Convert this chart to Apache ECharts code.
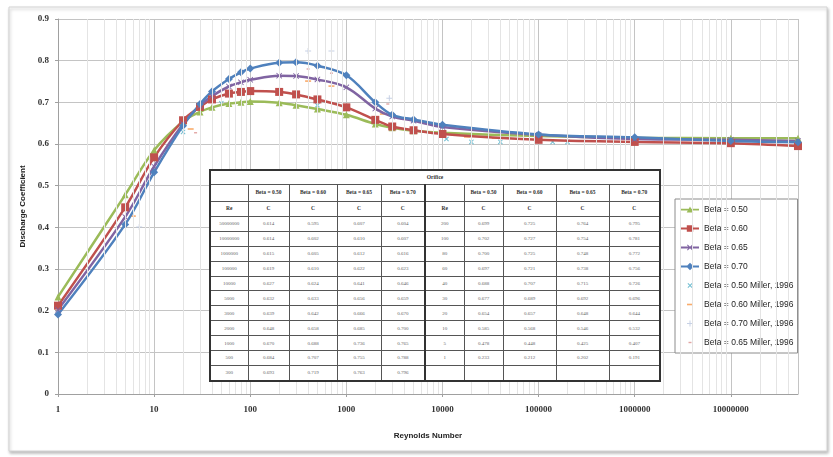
<!DOCTYPE html>
<html>
<head>
<meta charset="utf-8">
<script src="https://cdn.jsdelivr.net/npm/echarts@6/dist/echarts.min.js"></script>
<style>
html, body { margin: 0; padding: 0; background: #fff; }
#wrap { position: relative; width: 833px; height: 457px; }
#chart { position: absolute; left: 0; top: 0; width: 833px; height: 457px; }
#orifice { position: absolute; left: 209px; top: 169px; width: 452px; border-collapse: collapse; table-layout: fixed;
    background: #fff; border: 2px solid #333; font-family: "Liberation Serif", serif; }
#orifice td { border: 1px solid #555; padding: 0; text-align: center; font-size: 5px; color: #666; line-height: 1; overflow: hidden; }
#orifice td.h { font-weight: bold; color: #333; font-size: 5.5px; }
#orifice td.mid { border-left: 2px solid #333; }
#orifice tr.t td { height: 13px; text-align: center; }
#orifice tr.b td { height: 16px; }
#orifice tr.c td { height: 14px; }
#orifice tr.d td { height: 13.9px; }
</style>
</head>
<body>
<div id="wrap">
    <div id="chart"></div>
    <table id="orifice"></table>
</div>
<script>
// Reynolds numbers (same for every beta)
var reynolds = [1, 5, 10, 20, 30, 40, 60, 80, 100, 200, 300, 500, 1000, 2000, 3000, 5000, 10000, 100000, 1000000, 10000000, 50000000];
// discharge coefficient C
var beta50 = [0.233, 0.478, 0.585, 0.654, 0.677, 0.688, 0.697, 0.700, 0.702, 0.699, 0.693, 0.684, 0.670, 0.648, 0.639, 0.632, 0.627, 0.619, 0.615, 0.614, 0.614];
var beta60 = [0.212, 0.448, 0.568, 0.657, 0.689, 0.707, 0.721, 0.725, 0.727, 0.725, 0.719, 0.707, 0.688, 0.658, 0.642, 0.633, 0.624, 0.610, 0.605, 0.602, 0.595];
var beta65 = [0.202, 0.425, 0.546, 0.648, 0.692, 0.715, 0.738, 0.748, 0.754, 0.764, 0.763, 0.755, 0.736, 0.685, 0.666, 0.656, 0.641, 0.622, 0.612, 0.610, 0.607];
var beta70 = [0.191, 0.407, 0.532, 0.644, 0.696, 0.726, 0.756, 0.772, 0.781, 0.795, 0.796, 0.788, 0.765, 0.700, 0.670, 0.659, 0.646, 0.623, 0.616, 0.607, 0.604];
var betaLabels = ['Beta = 0.50', 'Beta = 0.60', 'Beta = 0.65', 'Beta = 0.70'];

// Miller, 1996 points [Re, C]
var miller50 = [[20, 0.629], [50, 0.698], [500, 0.693], [11000, 0.612], [20000, 0.605], [40000, 0.605], [140000, 0.605], [200000, 0.605]];
var miller60 = [[6, 0.427], [24, 0.636], [60, 0.722], [400, 0.751], [700, 0.739], [2400, 0.672], [10000, 0.629], [18000, 0.617], [35000, 0.614]];
var miller70 = [[7, 0.401], [400, 0.823], [700, 0.823], [2800, 0.710]];
var miller65 = [[27, 0.627], [400, 0.780], [700, 0.770], [2700, 0.696]];

function pairs(xs, ys) {
    return xs.map(function (x, i) { return [x, ys[i]]; });
}

// table under the curves
(function () {
    var cols = [38, 41, 48, 44, 44, 39, 39, 53, 53, 51];
    var html = '<colgroup>' + cols.map(function (w) { return '<col style="width:' + w + 'px">'; }).join('') + '</colgroup>';
    html += '<tr class="t"><td class="h" colspan="10">Orifice</td></tr>';
    var head = '<td class="h"></td>' + betaLabels.map(function (b) { return '<td class="h">' + b + '</td>'; }).join('');
    html += '<tr class="b">' + head + head.replace('<td class="h">', '<td class="h mid">') + '</tr>';
    var head2 = '<td class="h">Re</td><td class="h">C</td><td class="h">C</td><td class="h">C</td><td class="h">C</td>';
    html += '<tr class="c">' + head2 + head2.replace('<td class="h">', '<td class="h mid">') + '</tr>';
    var all = [beta50, beta60, beta65, beta70];
    function cells(i, mid) {
        if (i < 0) return '<td class="' + mid + '"></td><td></td><td></td><td></td><td></td>';
        var s = '<td class="' + mid + '">' + reynolds[i] + '</td>';
        all.forEach(function (a) { s += '<td>' + a[i].toFixed(3) + '</td>'; });
        return s;
    }
    for (var r = 0; r < 11; r++) {
        html += '<tr class="d">' + cells(20 - r, '') + cells(9 - r, 'mid') + '</tr>';
    }
    document.getElementById('orifice').innerHTML = html;
})();

// minor vertical grid lines at 2..9 of every decade
var minorGrid = [];
for (var d = 1; d < 50000000; d *= 10) {
    for (var k = 2; k <= 9; k++) {
        if (k * d < 50000000) minorGrid.push({ xAxis: k * d });
    }
}

// markers
var xMark = 'path://M0,1L1,0L5,4L9,0L10,1L6,5L10,9L9,10L5,6L1,10L0,9L4,5Z';
var millerX = 'path://M0,0M18,8M6.5,2.2L7.2,1.5L11.5,5.8L10.8,6.5ZM6.5,5.8L10.8,1.5L11.5,2.2L7.2,6.5Z';
var millerPlus = 'path://M0,0M18,8M6,3.5H12V4.5H6ZM8.5,1H9.5V7H8.5Z';
var millerDash = 'path://M0,0M18,8M6,3.2H12V4.8H6Z';
var millerSmallDash = 'path://M0,0M18,8M7.5,3.3H10.5V4.7H7.5Z';
// legend icons: line with marker
var bar = 'M0,3.1H18V4.9H0Z';
var iconTri = 'path://' + bar + 'M9,0.8L12.3,7H5.7Z';
var iconRect = 'path://' + bar + 'M5.8,0.8H12.2V7.2H5.8Z';
var iconX = 'path://' + bar + 'M6,1.7L6.7,1L12,6.3L11.3,7ZM6,6.3L11.3,1L12,1.7L6.7,7Z';
var iconDiamond = 'path://' + bar + 'M9,0.3L12.7,4L9,7.7L5.3,4Z';

var myChart = echarts.init(document.getElementById('chart'));

function betaSeries(name, values, color, symbol, size) {
    return {
        name: name,
        type: 'line',
        data: pairs(reynolds, values),
        smooth: 0.35,
        symbol: symbol,
        symbolSize: size,
        showAllSymbol: true,
        color: color,
        lineStyle: { width: 2.5, color: color },
        itemStyle: { color: color },
        animation: false
    };
}

function millerSeries(name, data, color, symbol) {
    return {
        name: name,
        type: 'scatter',
        data: data,
        symbol: symbol,
        symbolSize: [18, 8],
        color: color,
        itemStyle: { color: color },
        animation: false
    };
}

var option = {
    backgroundColor: '#fff',
    graphic: [{
        type: 'rect',
        z: -10,
        silent: true,
        shape: { x: 9, y: 7, width: 818, height: 444 },
        style: { fill: '#fff', stroke: '#d4d4d4', lineWidth: 1, shadowBlur: 3, shadowOffsetX: 1, shadowOffsetY: 2, shadowColor: 'rgba(0,0,0,0.25)' }
    }],
    grid: { left: 58, right: 35, top: 19, bottom: 63, containLabel: false, outerBoundsMode: 'none' },
    legend: {
        orient: 'vertical',
        left: 675,
        top: 199,
        padding: [6, 4, 6, 6],
        itemWidth: 18,
        itemHeight: 8,
        itemGap: 10,
        borderColor: '#8c8c8c',
        borderWidth: 1,
        backgroundColor: '#fff',
        textStyle: { fontFamily: 'Liberation Sans', fontSize: 8.5, color: '#222' },
        data: [
            { name: 'Beta = 0.50', icon: iconTri },
            { name: 'Beta = 0.60', icon: iconRect },
            { name: 'Beta = 0.65', icon: iconX },
            { name: 'Beta = 0.70', icon: iconDiamond },
            'Beta = 0.50 Miller, 1996', 'Beta = 0.60 Miller, 1996', 'Beta = 0.70 Miller, 1996', 'Beta = 0.65 Miller, 1996'
        ]
    },
    xAxis: {
        type: 'log',
        logBase: 10,
        min: 1,
        max: 50000000,
        name: 'Reynolds Number',
        nameLocation: 'middle',
        nameGap: 38,
        nameTextStyle: { fontFamily: 'Liberation Sans', fontWeight: 'bold', fontSize: 8, color: '#222' },
        axisLine: { lineStyle: { color: '#a0a0a0' } },
        axisTick: { show: true, length: 3, lineStyle: { color: '#a0a0a0' } },
        axisLabel: {
            showMaxLabel: false,
            margin: 11,
            fontFamily: 'Liberation Serif',
            fontWeight: 'bold',
            fontSize: 9,
            color: '#333',
            formatter: function (v) { return String(Math.round(v)); }
        },
        splitLine: { show: true, lineStyle: { color: '#c4c4c4', width: 1 } }
    },
    yAxis: {
        type: 'value',
        min: 0,
        max: 0.9,
        interval: 0.1,
        name: 'Discharge Coefficient',
        nameLocation: 'middle',
        nameGap: 31,
        nameTextStyle: { fontFamily: 'Liberation Sans', fontWeight: 'bold', fontSize: 8, color: '#222' },
        axisLine: { show: true, lineStyle: { color: '#a0a0a0' } },
        axisTick: { show: true, length: 3, lineStyle: { color: '#a0a0a0' } },
        axisLabel: { margin: 9, fontFamily: 'Liberation Serif', fontWeight: 'bold', fontSize: 9, color: '#333' },
        splitLine: { show: true, lineStyle: { color: '#c4c4c4', width: 1 } }
    },
    series: [
        {
            name: 'minor grid',
            type: 'line',
            data: [],
            silent: true,
            markLine: {
                silent: true,
                animation: false,
                symbol: ['none', 'none'],
                label: { show: false },
                lineStyle: { color: '#e4e4e4', width: 1, type: 'solid' },
                data: minorGrid
            }
        },
        betaSeries('Beta = 0.50', beta50, '#9BBB59', 'triangle', 7),
        betaSeries('Beta = 0.60', beta60, '#C0504D', 'rect', 8),
        betaSeries('Beta = 0.65', beta65, '#8064A2', xMark, 6),
        betaSeries('Beta = 0.70', beta70, '#4F81BD', 'diamond', 8),
        millerSeries('Beta = 0.50 Miller, 1996', miller50, '#4BACC6', millerX),
        millerSeries('Beta = 0.60 Miller, 1996', miller60, '#F79646', millerDash),
        millerSeries('Beta = 0.70 Miller, 1996', miller70, '#B9C6DE', millerPlus),
        millerSeries('Beta = 0.65 Miller, 1996', miller65, '#D98F8C', millerSmallDash)
    ]
};

myChart.setOption(option);
window.addEventListener('resize', function () { myChart.resize(); });
</script>
</body>
</html>
